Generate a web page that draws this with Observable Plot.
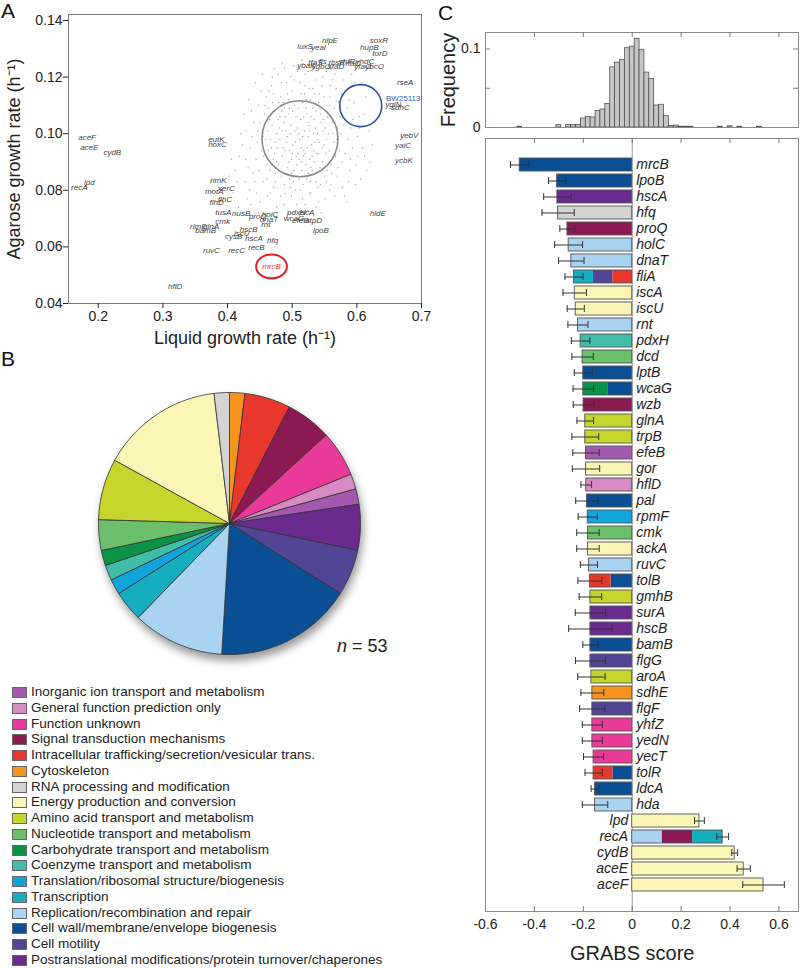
<!DOCTYPE html>
<html><head><meta charset="utf-8">
<script src="https://cdn.jsdelivr.net/npm/d3@7"></script>
<script src="https://cdn.jsdelivr.net/npm/@observablehq/plot@0.6"></script>
<style>
body{margin:0;background:#fff;font-family:"Liberation Sans",Arial,sans-serif;color:#222;}
#root{position:relative;width:800px;height:968px;overflow:hidden;background:#fff;}
.abs{position:absolute;}
.plabel{position:absolute;font-size:21px;line-height:1;color:#111;}
.lrow{position:absolute;left:12px;height:16px;font-size:13.5px;line-height:16px;white-space:nowrap;color:#222;}
.lsw{position:absolute;left:0;top:3px;width:13px;height:9px;border:1px solid #666;}
.ltx{position:absolute;left:19px;top:0;}
</style></head><body><div id="root"></div>
<script>
// ---------- Panel A data ----------
const xTicksA = [0.2, 0.3, 0.4, 0.5, 0.6, 0.7];
const yTicksA = [0.04, 0.06, 0.08, 0.10, 0.12, 0.14];
const cloud = [[0.512,0.098],[0.487,0.104],[0.531,0.092],[0.468,0.095],[0.548,0.101],[0.503,0.087],[0.521,0.109],[0.479,0.089],[0.557,0.094],[0.495,0.112],[0.538,0.086],[0.462,0.101],[0.509,0.093],[0.526,0.103],[0.491,0.097],[0.544,0.107],[0.473,0.108],[0.517,0.082],[0.499,0.091],[0.535,0.097],[0.483,0.085],[0.562,0.104],[0.506,0.106],[0.529,0.088],[0.456,0.092],[0.514,0.114],[0.547,0.09],[0.488,0.109],[0.523,0.095],[0.497,0.1],[0.541,0.111],[0.466,0.087],[0.553,0.098],[0.502,0.083],[0.519,0.101],[0.476,0.1],[0.534,0.105],[0.493,0.088],[0.56,0.089],[0.511,0.091],[0.482,0.113],[0.528,0.112],[0.465,0.105],[0.546,0.095],[0.504,0.11],[0.537,0.083],[0.489,0.094],[0.518,0.106],[0.471,0.091],[0.552,0.108],[0.496,0.084],[0.525,0.099],[0.478,0.105],[0.543,0.088],[0.508,0.102],[0.532,0.109],[0.459,0.098],[0.564,0.097],[0.515,0.087],[0.485,0.092],[0.527,0.091],[0.494,0.107],[0.55,0.085],[0.47,0.111],[0.512,0.118],[0.539,0.1],[0.501,0.096],[0.522,0.084],[0.481,0.098],[0.558,0.11],[0.507,0.089],[0.535,0.114],[0.474,0.086],[0.545,0.104],[0.498,0.103],[0.52,0.093],[0.463,0.094],[0.567,0.092],[0.49,0.101],[0.531,0.087],[0.513,0.105],[0.484,0.108],[0.549,0.113],[0.505,0.08],[0.526,0.116],[0.469,0.103],[0.541,0.093],[0.495,0.09],[0.516,0.111],[0.477,0.095],[0.554,0.087],[0.51,0.1],[0.536,0.102],[0.488,0.082],[0.523,0.107],[0.461,0.089],[0.57,0.102],[0.5,0.115],[0.53,0.096],[0.486,0.111],
[0.432,0.088],[0.445,0.079],[0.418,0.092],[0.438,0.099],[0.427,0.083],[0.451,0.076],[0.441,0.104],[0.412,0.087],[0.436,0.075],[0.448,0.11],[0.423,0.096],[0.455,0.083],[0.409,0.079],[0.429,0.101],[0.444,0.091],[0.417,0.074],[0.452,0.115],[0.434,0.08],[0.403,0.085],[0.446,0.097],
[0.582,0.093],[0.594,0.105],[0.576,0.114],[0.589,0.087],[0.601,0.099],[0.578,0.081],[0.612,0.092],[0.585,0.109],[0.597,0.118],[0.575,0.1],[0.606,0.084],[0.588,0.112],[0.619,0.101],[0.581,0.078],[0.593,0.095],[0.614,0.113],[0.579,0.119],[0.603,0.106],[0.624,0.096],[0.587,0.083],
[0.478,0.121],[0.502,0.124],[0.525,0.122],[0.491,0.118],[0.547,0.12],[0.468,0.117],[0.515,0.126],[0.536,0.119],[0.559,0.117],[0.484,0.125],[0.52,0.121],[0.498,0.12],[0.545,0.125],[0.472,0.123],[0.508,0.122],[0.566,0.121],
[0.482,0.078],[0.507,0.075],[0.529,0.079],[0.494,0.072],[0.516,0.077],[0.541,0.076],[0.471,0.081],[0.558,0.08],[0.499,0.078],[0.524,0.073],[0.487,0.075],[0.533,0.071],[0.462,0.078],[0.551,0.077],[0.512,0.071],
[0.457,0.107],[0.443,0.118],[0.433,0.112],[0.454,0.121],[0.426,0.107],[0.569,0.085],[0.572,0.111],[0.566,0.078],[0.598,0.082],[0.592,0.121],[0.608,0.118],[0.464,0.115],[0.573,0.094],[0.449,0.087],[0.568,0.116],
[0.505,0.097],[0.518,0.094],[0.492,0.099],[0.527,0.101],[0.486,0.095],[0.533,0.094],[0.501,0.108],[0.514,0.09],[0.48,0.102],[0.54,0.098],[0.496,0.094],[0.522,0.112],[0.509,0.085],[0.474,0.097],[0.551,0.102],[0.489,0.106],[0.528,0.083],[0.516,0.099],[0.499,0.086],[0.543,0.109],
[0.452,0.094],[0.461,0.084],[0.447,0.101],[0.458,0.11],[0.439,0.086],[0.466,0.079],[0.471,0.114],[0.476,0.09],[0.483,0.118],[0.489,0.079],[0.493,0.114],[0.497,0.081],[0.503,0.119],[0.506,0.092],[0.511,0.084],[0.514,0.095],[0.519,0.114],[0.521,0.089],[0.524,0.104],[0.527,0.079],[0.532,0.116],[0.534,0.09],[0.537,0.108],[0.54,0.081],[0.542,0.097],[0.546,0.117],[0.549,0.096],[0.553,0.083],[0.555,0.106],[0.558,0.113],[0.561,0.086],[0.563,0.1],[0.565,0.109],[0.569,0.098],[0.571,0.088],[0.574,0.106],[0.577,0.09],[0.58,0.103],[0.583,0.115],[0.586,0.098],[0.59,0.091],[0.595,0.111],[0.599,0.089],[0.604,0.102],[0.609,0.095],[0.615,0.087],[0.421,0.1],[0.428,0.091],[0.435,0.095],[0.442,0.083],[0.437,0.108],[0.415,0.083],[0.406,0.091],[0.45,0.104],[0.455,0.099],[0.46,0.113],[0.463,0.109],[0.467,0.098],[0.473,0.093],[0.479,0.111],[0.485,0.101],[0.49,0.086],[0.496,0.109],[0.5,0.093],[0.504,0.101],[0.509,0.109],[0.513,0.08],[0.517,0.092],[0.52,0.117],[0.525,0.086],[0.529,0.106],[0.533,0.1],[0.538,0.093],[0.542,0.114],[0.544,0.082],[0.548,0.105],[0.552,0.093],[0.556,0.1],[0.56,0.082],[0.481,0.106],[0.474,0.083],[0.469,0.12],[0.488,0.123],[0.511,0.123],[0.535,0.123],[0.553,0.122],[0.562,0.119],[0.578,0.107],[0.591,0.102],[0.602,0.092],[0.611,0.107],[0.62,0.09],[0.43,0.077],[0.448,0.072],[0.476,0.074],[0.503,0.072],[0.52,0.075],[0.537,0.074],[0.545,0.072],[0.585,0.076]];
const labelGenes = ["aceF","aceE","cydB","recA","lpd","eutK","hoxC","rimK","motA","xerC","flhD","flhC","tusA","nusB","proQ","holC","dnaT","rnt","pdxH","iscA","wcaG","efeB","atpD","lpoB","hldE","rlmE","glnA","bamB","cmk","hscB","iscU","cysB","hscA","hfq","recB","ruvC","recC","hflD","ycbK","yaiC","yebV","ygiN","sdhC","rseA","nlpE","soxR","luxS","yeaI","hupB","torD","ybaK","tfaS","fis","rbsR","yhfR","rfaC","yhdC","ybcO","yfaO","ygbO","sfaD"];
const labelX = [0.169,0.172,0.208,0.158,0.178,0.370,0.370,0.373,0.365,0.385,0.372,0.385,0.381,0.407,0.433,0.453,0.450,0.452,0.492,0.511,0.487,0.500,0.520,0.532,0.620,0.342,0.362,0.350,0.381,0.419,0.410,0.396,0.427,0.461,0.432,0.362,0.401,0.308,0.659,0.659,0.667,0.644,0.653,0.662,0.546,0.620,0.508,0.529,0.605,0.624,0.508,0.525,0.541,0.556,0.572,0.582,0.598,0.613,0.596,0.530,0.555];
const labelY = [0.0986,0.0951,0.0933,0.0810,0.0827,0.0979,0.0961,0.0834,0.0795,0.0806,0.0757,0.0767,0.0721,0.0718,0.0707,0.0714,0.0697,0.0679,0.0721,0.0721,0.0700,0.0693,0.0693,0.0658,0.0718,0.0672,0.0672,0.0658,0.0690,0.0661,0.0647,0.0637,0.0630,0.0623,0.0598,0.0587,0.0587,0.0460,0.0905,0.0958,0.0993,0.1102,0.1092,0.1180,0.1328,0.1328,0.1307,0.1303,0.1303,0.1282,0.1240,0.1250,0.1254,0.1250,0.1254,0.1247,0.1254,0.1236,0.1236,0.1236,0.1236];
const wildType = {name: "BW25113", x: 0.645, y: 0.1123};
const highlight = {name: "mrcB", x: 0.468, y: 0.0531};
const circleGray = {x: 0.512, y: 0.0982};
const circleBlue = {x: 0.606, y: 0.1099};

// ---------- Categories (legend order) ----------
const catKeys = ["ion","gen","unk","sig","traf","cyto","rna","ener","amino","nuc","carb","coenz","transl","transc","repl","wall","motil","ptm"];
const catNames = ["Inorganic ion transport and metabolism","General function prediction only","Function unknown","Signal transduction mechanisms","Intracellular trafficking/secretion/vesicular trans.","Cytoskeleton","RNA processing and modification","Energy production and conversion","Amino acid transport and metabolism","Nucleotide transport and metabolism","Carbohydrate transport and metabolism","Coenzyme transport and metabolism","Translation/ribosomal structure/biogenesis","Transcription","Replication/recombination and repair","Cell wall/membrane/envelope biogenesis","Cell motility","Postranslational modifications/protein turnover/chaperones"];
const catColors = ["#a35aae","#d88bc3","#e93a99","#8c1a52","#e8382e","#f7941d","#d3d3d3","#fbf6b5","#c6d52c","#6cbf6b","#0b9347","#42bea8","#0fa5dc","#16adbf","#a9d3f0","#0a4e94","#534596","#6a2a8e"];
const pieOrder = ["cyto","traf","sig","unk","gen","ion","ptm","motil","wall","repl","transc","transl","coenz","carb","nuc","amino","ener","rna"];

// ---------- Panel C data ----------
const genes = ["mrcB","lpoB","hscA","hfq","proQ","holC","dnaT","fliA","iscA","iscU","rnt","pdxH","dcd","lptB","wcaG","wzb","glnA","trpB","efeB","gor","hflD","pal","rpmF","cmk","ackA","ruvC","tolB","gmhB","surA","hscB","bamB","flgG","aroA","sdhE","flgF","yhfZ","yedN","yecT","tolR","ldcA","hda","lpd","recA","cydB","aceE","aceF"];
const grabs = [-0.46,-0.307,-0.306,-0.303,-0.265,-0.26,-0.249,-0.238,-0.235,-0.231,-0.222,-0.211,-0.203,-0.2,-0.2,-0.199,-0.192,-0.192,-0.189,-0.189,-0.188,-0.185,-0.182,-0.181,-0.181,-0.177,-0.173,-0.171,-0.171,-0.171,-0.171,-0.171,-0.167,-0.163,-0.163,-0.163,-0.163,-0.158,-0.158,-0.152,-0.152,0.275,0.37,0.419,0.456,0.537];
const grabsErr = [0.038,0.035,0.056,0.066,0.031,0.057,0.052,0.037,0.048,0.035,0.041,0.038,0.044,0.037,0.042,0.042,0.034,0.055,0.054,0.056,0.022,0.046,0.039,0.046,0.046,0.035,0.049,0.046,0.062,0.089,0.031,0.061,0.056,0.047,0.052,0.041,0.041,0.041,0.035,0.016,0.052,0.02,0.024,0.012,0.027,0.085];
const geneCats = ["wall","wall","ptm","rna","sig","repl","repl","traf|motil|transc","ener","ener","repl","coenz","nuc","wall","wall|carb","sig","amino","amino","ion","ener","gen","wall","transl","nuc","ener","repl","wall|traf","amino","ptm","ptm","wall","motil","amino","cyto","motil","unk","unk","unk","wall|traf","wall","repl","ener","repl|sig|transc","ener","ener","ener"];
const histStart = [-0.47,-0.31,-0.27,-0.25,-0.23,-0.21,-0.19,-0.17,-0.15,-0.13,-0.11,-0.09,-0.07,-0.05,-0.03,-0.01,0.01,0.03,0.05,0.07,0.09,0.11,0.13,0.15,0.17,0.19,0.21,0.23,0.35,0.39,0.43,0.51];
const histFreq = [0.001,0.0034,0.0034,0.0034,0.0034,0.0115,0.0136,0.0128,0.021,0.023,0.030,0.0766,0.0826,0.086,0.101,0.103,0.113,0.099,0.070,0.062,0.028,0.029,0.0145,0.002,0.0025,0.001,0.001,0.001,0.001,0.0015,0.001,0.001];
const binWidth = 0.02;
const xTicksC = [-0.6,-0.4,-0.2,0,0.2,0.4,0.6];

// ---------- build ----------
const root = document.getElementById("root");
const FONT = "Liberation Sans, Arial, sans-serif";
function place(el, left, top) { el.style.position = "absolute"; el.style.left = left + "px"; el.style.top = top + "px"; root.appendChild(el); return el; }
function label(txt, left, top, cls) { const d = document.createElement("div"); d.className = cls; d.innerHTML = txt; d.style.left = left + "px"; d.style.top = top + "px"; root.appendChild(d); return d; }
const baseStyle = {fontFamily: FONT, fontSize: "14px", color: "#222", background: "transparent", overflow: "visible"};

// ellipse symbol for highlighted gene
const ellipseSymbol = {draw(ctx, size) { const r = Math.sqrt(size / Math.PI); const rx = r * 1.1, ry = r * 0.85, k = 0.5523;
  ctx.moveTo(rx, 0); ctx.bezierCurveTo(rx, k*ry, k*rx, ry, 0, ry); ctx.bezierCurveTo(-k*rx, ry, -rx, k*ry, -rx, 0);
  ctx.bezierCurveTo(-rx, -k*ry, -k*rx, -ry, 0, -ry); ctx.bezierCurveTo(k*rx, -ry, rx, -k*ry, rx, 0); ctx.closePath(); }};

// Panel A
const plotA = Plot.plot({
  width: 440, height: 360, marginLeft: 68, marginRight: 19, marginTop: 14, marginBottom: 57,
  style: baseStyle,
  x: {domain: [0.154, 0.7]}, y: {domain: [0.04, 0.1421]},
  marks: [
    Plot.dot(cloud, {x: d => d[0], y: d => d[1], r: 0.7, fill: "#9e9e9e", stroke: null}),
    Plot.dot([circleGray], {x: "x", y: "y", r: 38, fill: "none", stroke: "#8a8a8a", strokeWidth: 1.6}),
    Plot.dot([circleBlue], {x: "x", y: "y", r: 21, fill: "none", stroke: "#2f4ea3", strokeWidth: 1.6}),
    Plot.dot([highlight], {x: "x", y: "y", r: 14, symbol: ellipseSymbol, fill: "none", stroke: "#e31e24", strokeWidth: 2}),
    Plot.text(labelGenes, {x: (d, i) => labelX[i], y: (d, i) => labelY[i], text: d => d, fontSize: 8, fontStyle: "italic", fill: "#444", textAnchor: "start"}),
    Plot.text([wildType], {x: "x", y: "y", text: "name", fontSize: 8, fill: "#3a5db0", textAnchor: "start"}),
    Plot.text([highlight], {x: "x", y: "y", text: "name", fontSize: 8, fontStyle: "italic", fill: "#e8382e"}),
    Plot.frame({stroke: "#7a7a7a"}),
    Plot.axisX({ticks: xTicksA, tickFormat: d3.format(".1f"), tickSize: 5, tickPadding: 3, label: null, fontSize: 14}),
    Plot.axisY({ticks: yTicksA, tickFormat: d3.format(".2f"), tickSize: 5, tickPadding: 1, label: null, fontSize: 14}),
    Plot.text(["Liquid growth rate (h\u207B\u00B9)"], {frameAnchor: "bottom", dy: 35, lineAnchor: "middle", textAnchor: "middle", fontSize: 18, text: d => d, fill: "#222"}),
    Plot.text(["Agarose growth rate (h\u207B\u00B9)"], {frameAnchor: "left", dx: -54, rotate: -90, textAnchor: "middle", lineAnchor: "middle", fontSize: 18, text: d => d, fill: "#222"})
  ]
});
place(plotA, 0, 0);

// Panel B pie
const pieCounts = pieOrder.map(k => geneCats.reduce((s, c) => s + (c.split("|").includes(k) ? 1 : 0), 0));
const arcs = d3.pie().sort(null).value(d => d)(pieCounts);
const piePts = [];
arcs.forEach((a, i) => {
  const k = pieOrder[i];
  const n = Math.max(2, Math.ceil((a.endAngle - a.startAngle) / 0.02));
  piePts.push({k, px: 0, py: 0});
  for (let j = 0; j <= n; j++) { const t = a.startAngle + (a.endAngle - a.startAngle) * j / n; piePts.push({k, px: Math.sin(t), py: Math.cos(t)}); }
  piePts.push({k, px: 0, py: 0});
});
const plotB = Plot.plot({
  width: 300, height: 300, margin: 0, style: baseStyle,
  x: {domain: [-1.145, 1.145], axis: null}, y: {domain: [-1.145, 1.145], axis: null},
  color: {domain: catKeys, range: catColors},
  marks: [Plot.line(piePts, {x: "px", y: "py", z: "k", fill: "k", stroke: "#333", strokeWidth: 0.8, strokeLinejoin: "round"})]
});
plotB.style.filter = "drop-shadow(2px 6px 4px rgba(0,0,0,0.4))";
place(plotB, 79, 373);
const nTotal = d3.sum(pieCounts);
label("<i>n</i> = " + nTotal, 337, 636, "abs").style.fontSize = "18px";

// legend
catKeys.forEach((k, i) => {
  const row = document.createElement("div"); row.className = "lrow"; row.style.top = (684 + i * 15.76) + "px";
  const sw = document.createElement("div"); sw.className = "lsw"; sw.style.background = catColors[i];
  const tx = document.createElement("div"); tx.className = "ltx"; tx.textContent = catNames[i];
  row.appendChild(sw); row.appendChild(tx); root.appendChild(row);
});

// Panel C histogram
const histData = histStart.map((s, i) => ({x1: s, x2: s + binWidth, f: histFreq[i]}));
const innerWC = 400 - 85 - 2;
const plotH = Plot.plot({
  width: 400, height: 140, marginLeft: 85, marginRight: 2, marginTop: 32, marginBottom: 13, style: baseStyle,
  x: {domain: [-0.6, 0.68], axis: null}, y: {domain: [0, 0.121], axis: null},
  marks: [
    Plot.rect(histData, {x1: "x1", x2: "x2", y1: () => 0, y2: "f", fill: "#c6c6c6", stroke: "#444", strokeWidth: 0.7}),
    Plot.frame({stroke: "#8a8a8a"}),
    Plot.tickX(xTicksC.slice(1), {x: d => d, insetBottom: 95 - 5, stroke: "#777"}),
    Plot.tickY([0.05, 0.1], {y: d => d, insetRight: innerWC - 5, stroke: "#777"}),
    Plot.tickY([0.05, 0.1], {y: d => d, insetLeft: innerWC - 5, stroke: "#777"}),
    Plot.axisY({ticks: [0, 0.1], tickSize: 0, tickPadding: 5, tickFormat: d => String(d), label: null, fontSize: 14}),
    Plot.text(["Frequency"], {frameAnchor: "left", dx: -37, rotate: -90, textAnchor: "middle", lineAnchor: "middle", fontSize: 20, text: d => d, fill: "#222"})
  ]
});
place(plotH, 400, 0);

// Panel C bars
const barData = genes.map((g, i) => ({gene: g, v: grabs[i], e: grabsErr[i], cats: geneCats[i].split("|")}));
const segments = [];
barData.forEach(d => { const k = d.cats.length; d.cats.forEach((c, j) => segments.push({gene: d.gene, cat: c, x1: d.v * j / k, x2: d.v * (j + 1) / k})); });
const innerHC = 838 - 8 - 57;
const plotC = Plot.plot({
  width: 400, height: 838, marginLeft: 85, marginRight: 2, marginTop: 8, marginBottom: 57, style: baseStyle,
  x: {domain: [-0.6, 0.68]},
  y: {domain: genes, paddingInner: 0.2, paddingOuter: 0.1, inset: 10.6, axis: null},
  color: {domain: catKeys, range: catColors},
  marks: [
    Plot.ruleX([0], {x: d => d, stroke: "#9a9a9a"}),
    Plot.barX(segments, {y: "gene", x1: "x1", x2: "x2", fill: "cat"}),
    Plot.barX(barData, {y: "gene", x1: () => 0, x2: "v", fill: "none", stroke: "#555", strokeWidth: 0.9}),
    Plot.ruleY(barData, {y: "gene", x1: d => d.v - d.e, x2: d => d.v + d.e, stroke: "#333", strokeWidth: 1}),
    Plot.tickX(barData, {y: "gene", x: d => d.v - d.e, insetTop: 3, insetBottom: 3, stroke: "#333"}),
    Plot.tickX(barData, {y: "gene", x: d => d.v + d.e, insetTop: 3, insetBottom: 3, stroke: "#333"}),
    Plot.text(barData.filter(d => d.v < 0), {y: "gene", x: () => 0, dx: 4, text: "gene", textAnchor: "start", fontStyle: "italic", fontSize: 14, fill: "#222"}),
    Plot.text(barData.filter(d => d.v > 0), {y: "gene", x: () => 0, dx: -4, text: "gene", textAnchor: "end", fontStyle: "italic", fontSize: 14, fill: "#222"}),
    Plot.frame({stroke: "#8a8a8a"}),
    Plot.tickX(xTicksC.slice(1), {x: d => d, insetBottom: innerHC - 5, stroke: "#777"}),
    Plot.tickX(xTicksC.slice(1), {x: d => d, insetTop: innerHC - 5, stroke: "#777"}),
    Plot.axisX({ticks: xTicksC, tickSize: 0, tickPadding: 8, tickFormat: d => String(d), label: null, fontSize: 14}),
    Plot.text(["GRABS score"], {x: () => 0, frameAnchor: "bottom", dy: 42, lineAnchor: "middle", fontSize: 20, text: d => d, fill: "#222"})
  ]
});
place(plotC, 400, 130);

// panel letters
label("A", 1, 0, "plabel");
label("B", 1, 348, "plabel");
label("C", 438, 2, "plabel");
</script></body></html>
